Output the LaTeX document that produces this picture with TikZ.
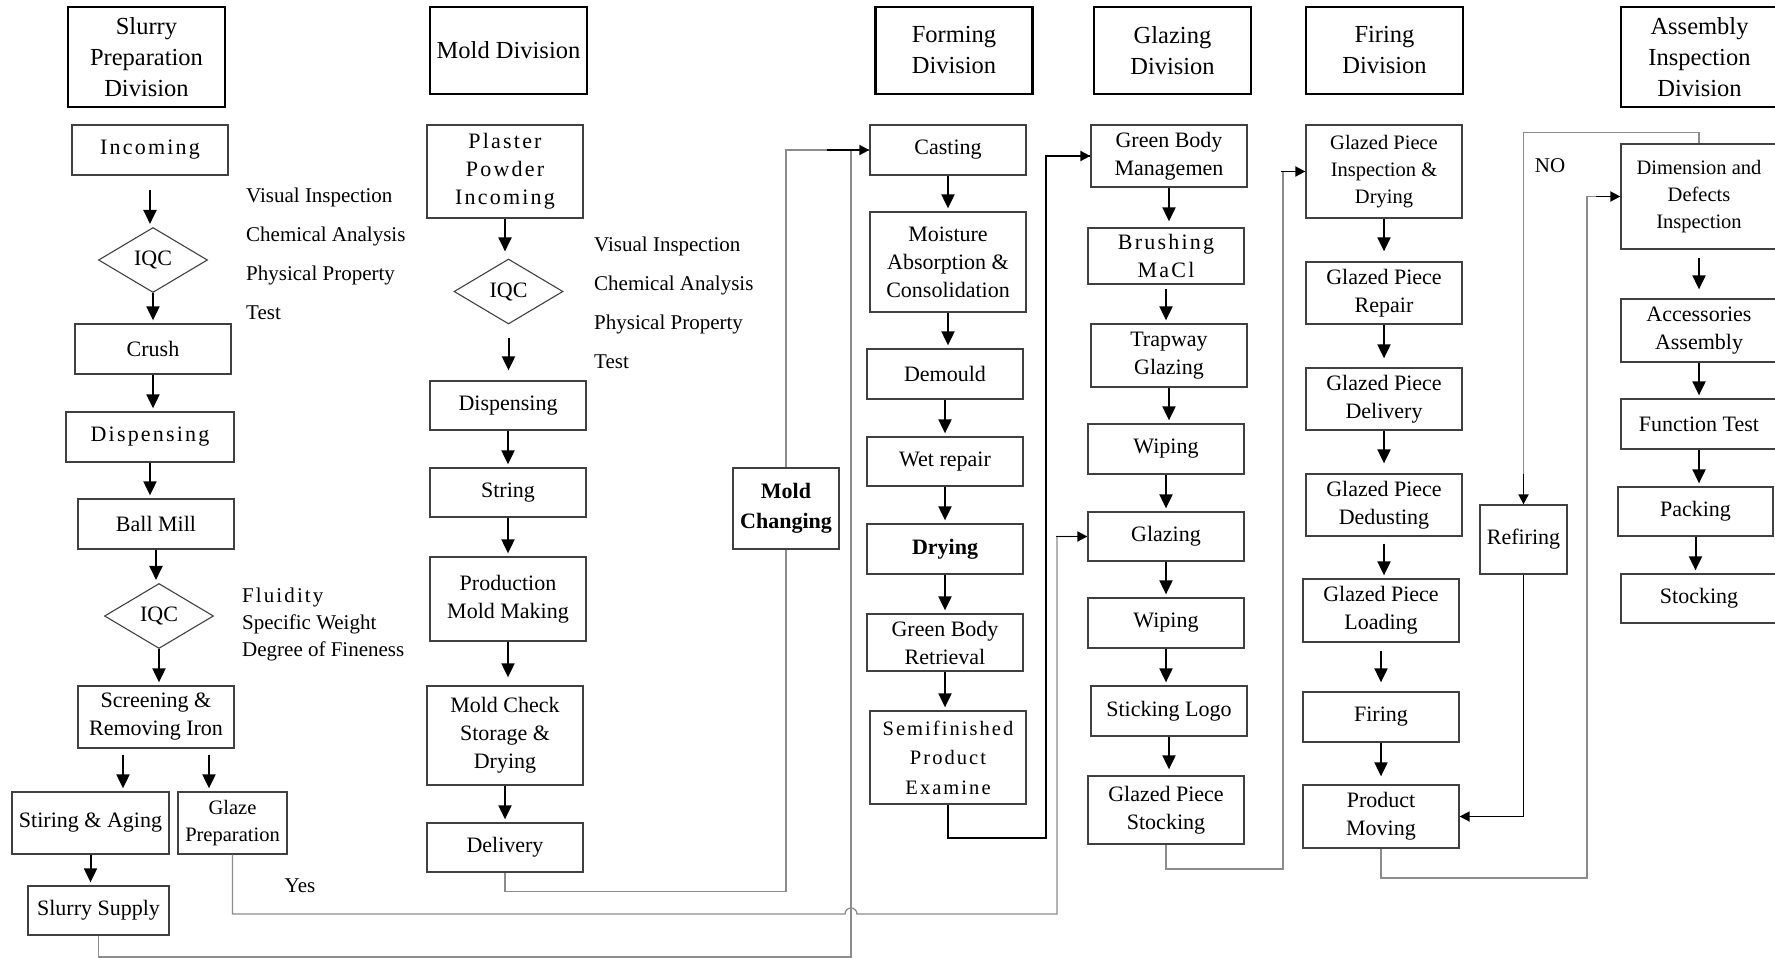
\documentclass[tikz,border=0pt]{standalone}
\usepackage{fontspec}
\setmainfont{Liberation Serif}
\newfontfamily\widefont[LetterSpace=10]{Liberation Serif}
\usetikzlibrary{arrows.meta,shapes.geometric}

\begin{document}
\begin{tikzpicture}[x=1pt,y=-1pt,>={Triangle[length=14pt,width=13pt]},
  head node/.style={draw,line width=2.6pt,minimum width=157pt,minimum height=87pt,align=center,inner sep=1pt,font=\fontsize{24.5}{31}\selectfont},
  proc node/.style={draw=black!75,line width=1.3pt,minimum width=156pt,minimum height=50pt,align=center,inner sep=1pt,font=\fontsize{22}{28}\selectfont},
  small node/.style={proc node,font=\fontsize{20.5}{27}\selectfont},
  check node/.style={diamond,draw=black!75,line width=1.1pt,minimum width=109pt,minimum height=65pt,inner sep=0pt,font=\fontsize{22}{26}\selectfont},
  note node/.style={anchor=west,align=left,inner sep=0pt,font=\fontsize{21}{39}\selectfont},
  flow/.style={->,draw=black,line width=2pt,shorten >=3pt},
  link/.style={draw=black!45,line width=1.3pt},
  tip/.style={->,draw=black,line width=1.8pt,>={Triangle[length=10pt,width=10pt]}}]

 \useasboundingbox (0,0) rectangle (1775,958);

 % division heads
 \node[head node,minimum height=100pt] (hslurry) at (146.5,57) {Slurry\\Preparation\\Division};
 \node[head node] (hmold) at (508.5,50.5) {Mold Division};
 \node[head node] (hform) at (954,50.5) {Forming\\Division};
 \node[head node] (hglaze) at (1172.5,50.5) {Glazing\\Division};
 \node[head node] (hfire) at (1384.5,50.5) {Firing\\Division};
 \node[head node,minimum height=100pt] (hassy) at (1699.5,57) {Assembly\\Inspection\\Division};

 % slurry preparation
 \node[proc node] (inc) at (150,150) {\widefont Incoming};
 \node[check node] (iqc1) at (153,260) {IQC};
 \node[proc node] (crush) at (153,349) {Crush};
 \node[proc node,minimum width=168pt] (sdisp) at (150,437) {\widefont Dispensing};
 \node[proc node] (ball) at (156,524) {Ball Mill};
 \node[check node] (iqc2) at (159,616) {IQC};
 \node[proc node,minimum height=62pt] (scr) at (156,717) {Screening \&\\Removing Iron};
 \node[proc node,minimum width=157pt,minimum height=62pt] (stir) at (90.5,823) {Stiring \& Aging};
 \node[small node,minimum width=109pt,minimum height=62pt] (gprep) at (232.5,823) {Glaze\\Preparation};
 \node[proc node,minimum width=141pt,minimum height=49pt] (ssup) at (98.5,910.5) {Slurry Supply};
 \node[note node] (qc1txt) at (246,253.5) {Visual Inspection\\Chemical Analysis\\Physical Property\\Test};
 \node[note node,font=\fontsize{21}{27}\selectfont] (qc2txt) at (242,624) {{\widefont Fluidity}\\Specific Weight\\Degree of Fineness};
 \node[note node,anchor=center] (yes) at (300,886) {Yes};

 % mold
 \node[proc node,minimum height=93pt] (plaster) at (505,171.5) {\widefont Plaster\\\widefont Powder\\\widefont Incoming};
 \node[check node] (iqcm) at (508.5,291.5) {IQC};
 \node[proc node,minimum height=49pt] (mdisp) at (508,405.5) {Dispensing};
 \node[proc node,minimum height=49pt] (mstring) at (508,492.5) {String};
 \node[proc node,minimum height=84pt] (prodm) at (508,599) {Production\\Mold Making};
 \node[proc node,minimum height=99pt] (mcheck) at (505,735.5) {Mold Check\\Storage \&\\Drying};
 \node[proc node,minimum height=49pt] (mdeliv) at (505,847.5) {Delivery};
 \node[proc node,minimum width=106pt,minimum height=81pt,font=\fontsize{22}{30}\selectfont\bfseries] (mchg) at (786,508.5) {Mold\\Changing};
 \node[note node] (qcmtxt) at (594,303) {Visual Inspection\\Chemical Analysis\\Physical Property\\Test};

 % forming
 \node[proc node] (cast) at (948,150) {Casting};
 \node[proc node,minimum height=100pt] (moist) at (948,262) {Moisture\\Absorption \&\\Consolidation};
 \node[proc node] (demould) at (945,374) {Demould};
 \node[proc node,minimum height=49pt] (wetrep) at (945,461.5) {Wet repair};
 \node[proc node,font=\fontsize{22}{28}\selectfont\bfseries] (drying) at (945,549) {Drying};
 \node[proc node,minimum height=57pt] (gbret) at (945,642.5) {Green Body\\Retrieval};
 \node[proc node,minimum height=93pt,font=\fontsize{20.5}{29.5}\selectfont] (semi) at (948,757.5) {\widefont Semifinished\\\widefont Product\\\widefont Examine};

 % glazing
 \node[proc node,minimum height=62pt] (gbman) at (1169,156) {Green Body\\Managemen};
 \node[proc node,minimum height=56pt] (brush) at (1166,256) {\widefont Brushing\\\widefont MaCl};
 \node[proc node,minimum height=63pt] (trap) at (1169,355.5) {Trapway\\Glazing};
 \node[proc node] (wipeA) at (1166,449) {Wiping};
 \node[proc node,minimum height=49pt] (glz) at (1166,536.5) {Glazing};
 \node[proc node] (wipeB) at (1166,623) {Wiping};
 \node[proc node] (logo) at (1169,711) {Sticking Logo};
 \node[proc node,minimum height=68pt] (gstock) at (1166,810) {Glazed Piece\\Stocking};

 % firing
 \node[small node,minimum height=93pt] (ginsp) at (1384,171.5) {Glazed Piece\\Inspection \&\\Drying};
 \node[proc node,minimum height=62pt] (grep) at (1384,293) {Glazed Piece\\Repair};
 \node[proc node,minimum height=62pt] (gdel) at (1384,399) {Glazed Piece\\Delivery};
 \node[proc node,minimum height=62pt] (gdedust) at (1384,505) {Glazed Piece\\Dedusting};
 \node[proc node,minimum height=63pt] (gload) at (1381,610.5) {Glazed Piece\\Loading};
 \node[proc node] (firing) at (1381,717) {Firing};
 \node[proc node,minimum height=63pt] (pmov) at (1381,816.5) {Product\\Moving};
 \node[proc node,minimum width=87pt,minimum height=69pt] (refire) at (1523.5,539.5) {Refiring};
 \node[note node,anchor=center] (no) at (1550,166) {NO};

 % assembly inspection
 \node[small node,minimum height=105pt] (dimins) at (1699,196.5) {Dimension and\\Defects\\Inspection};
 \node[proc node,minimum height=63pt] (accas) at (1699,330.5) {Accessories\\Assembly};
 \node[proc node] (functest) at (1699,424) {Function Test};
 \node[proc node,minimum width=155pt,minimum height=49pt] (packing) at (1695.5,511.5) {Packing};
 \node[proc node,minimum height=49pt] (stocking) at (1699,598.5) {Stocking};

 \coordinate (scrL) at ([xshift=-33pt]scr.south);
 \coordinate (scrR) at ([xshift=53pt]scr.south);
 \coordinate (busA) at (851,957);
 \coordinate (busB) at (1046,838);
 \coordinate (hopL) at (845,914);
 \coordinate (busC) at (1057,914);
 \coordinate (busD) at (1283,869);
 \coordinate (busE) at (1587,878);

 % loops between divisions
 \draw[link] (ssup.south) |- (busA) |- (cast.west);
 \draw[link] (mdeliv.south) -- ++(0,19) -| (mchg.south);
 \draw[link] (mchg.north) |- (cast.west);
 \draw[link,draw=black] (semi.south) |- (busB) |- (gbman.west);
 \draw[link] (gprep.south) |- (hopL) arc[start angle=180,end angle=360,radius=6] -- (busC) |- (glz.west);
 \draw[link] (gstock.south) |- (busD) |- (ginsp.west);
 \draw[link] (pmov.south) |- (busE) |- (dimins.west);
 \draw[link] (dimins.north) -- ++(0,-11) -| (refire.north);
 \draw[link,draw=black] (refire.south) |- (pmov.east);

 \draw[tip] ([xshift=-42pt]cast.west) -- (cast.west);
 \draw[tip] ([xshift=-22pt]gbman.west) -- (gbman.west);
 \draw[tip] ([xshift=-31pt]glz.west) -- (glz.west);
 \draw[tip] ([xshift=-24pt]ginsp.west) -- (ginsp.west);
 \draw[tip] ([xshift=-24pt]dimins.west) -- (dimins.west);
 \draw[tip] ([xshift=42pt]pmov.east) -- (pmov.east);
 \draw[tip] ([yshift=30pt]refire.north) -- (refire.north);

 % steps inside each division
 \path[every edge/.style={flow}]
    (inc.south)     edge[shorten <=14pt] (inc.south |- iqc1.north)
    (iqc1.south)    edge (iqc1.south |- crush.north)
    (crush.south)   edge (crush.south |- sdisp.north)
    (sdisp.south)   edge (sdisp.south |- ball.north)
    (ball.south)    edge (ball.south |- iqc2.north)
    (iqc2.south)    edge (iqc2.south |- scr.north)
    (scrL)          edge[shorten <=6pt] (scrL |- stir.north)
    (scrR)          edge[shorten <=6pt] (scrR |- gprep.north)
    (stir.south)    edge (stir.south |- ssup.north)
    (plaster.south) edge[shorten >=7pt] (plaster.south |- iqcm.north)
    (iqcm.south)    edge[shorten <=13pt,shorten >=10pt] (iqcm.south |- mdisp.north)
    (mdisp.south)   edge (mdisp.south |- mstring.north)
    (mstring.south) edge (mstring.south |- prodm.north)
    (prodm.south)   edge[shorten >=8pt] (prodm.south |- mcheck.north)
    (mcheck.south)  edge (mcheck.south |- mdeliv.north)
    (cast.south)    edge (cast.south |- moist.north)
    (moist.south)   edge (moist.south |- demould.north)
    (demould.south) edge (demould.south |- wetrep.north)
    (wetrep.south)  edge (wetrep.south |- drying.north)
    (drying.south)  edge (drying.south |- gbret.north)
    (gbret.south)   edge (gbret.south |- semi.north)
    (gbman.south)   edge[shorten >=6pt] (gbman.south |- brush.north)
    (brush.south)   edge[shorten <=4pt] (brush.south |- trap.north)
    (trap.south)    edge (trap.south |- wipeA.north)
    (wipeA.south)   edge (wipeA.south |- glz.north)
    (glz.south)     edge (glz.south |- wipeB.north)
    (wipeB.south)   edge (wipeB.south |- logo.north)
    (logo.south)    edge[shorten >=6pt] (logo.south |- gstock.north)
    (ginsp.south)   edge[shorten >=10pt] (ginsp.south |- grep.north)
    (grep.south)    edge[shorten >=9pt] (grep.south |- gdel.north)
    (gdel.south)    edge[shorten >=10pt] (gdel.south |- gdedust.north)
    (gdedust.south) edge[shorten <=7pt] (gdedust.south |- gload.north)
    (gload.south)   edge[shorten <=8pt,shorten >=9pt] (gload.south |- firing.north)
    (firing.south)  edge[shorten >=8pt] (firing.south |- pmov.north)
    (dimins.south)  edge[shorten <=8pt,shorten >=9pt] (dimins.south |- accas.north)
    (accas.south)   edge (accas.south |- functest.north)
    (functest.south) edge (functest.south |- packing.north)
    (packing.south) edge (packing.south |- stocking.north);

\end{tikzpicture}
\end{document}
